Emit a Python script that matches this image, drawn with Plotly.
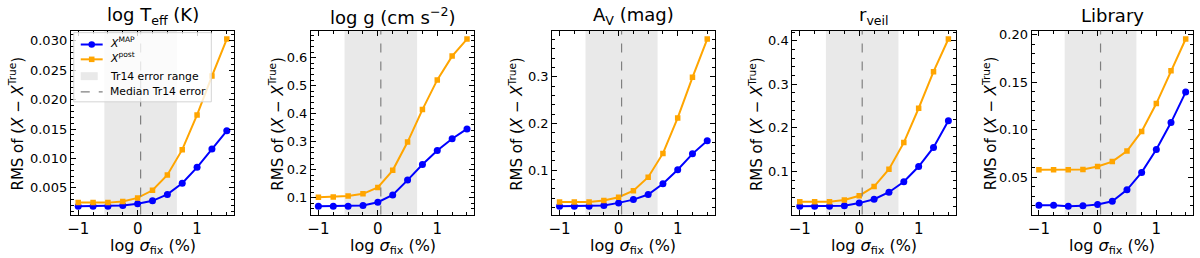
import plotly.graph_objects as go

# ---------------- data ----------------
log_sigma_fix = [-1, -0.75, -0.5, -0.25, 0, 0.25, 0.5, 0.75, 1, 1.25, 1.5]

teff_map = [0.0019, 0.0019, 0.0019, 0.0020, 0.0023, 0.0028, 0.0039, 0.0058, 0.0085, 0.0116, 0.0147]
teff_post = [0.0025, 0.0025, 0.0025, 0.0027, 0.0033, 0.0046, 0.0072, 0.0115, 0.0174, 0.0240, 0.0303]

logg_map = [0.070, 0.070, 0.070, 0.072, 0.084, 0.110, 0.163, 0.219, 0.269, 0.311, 0.346]
logg_post = [0.102, 0.103, 0.106, 0.114, 0.137, 0.198, 0.299, 0.415, 0.521, 0.606, 0.667]

av_map = [0.023, 0.023, 0.023, 0.0245, 0.030, 0.037, 0.048, 0.071, 0.101, 0.135, 0.163]
av_post = [0.032, 0.032, 0.032, 0.035, 0.042, 0.056, 0.085, 0.136, 0.212, 0.299, 0.381]

rveil_map = [0.020, 0.020, 0.020, 0.021, 0.027, 0.036, 0.052, 0.076, 0.111, 0.155, 0.216]
rveil_post = [0.030, 0.030, 0.030, 0.034, 0.044, 0.065, 0.105, 0.166, 0.245, 0.329, 0.404]

lib_map = [0.0207, 0.0207, 0.0197, 0.0200, 0.0214, 0.0248, 0.0369, 0.0552, 0.0793, 0.1076, 0.1397]
lib_post = [0.058, 0.058, 0.058, 0.0583, 0.0614, 0.0666, 0.0776, 0.0983, 0.1276, 0.1620, 0.1955]

panel_titles = ["log T<sub>eff</sub> (K)", "log g (cm s<sup>−2</sup>)", "A<sub>V</sub> (mag)",
                "r<sub>veil</sub>", "Library"]
map_series = [teff_map, logg_map, av_map, rveil_map, lib_map]
post_series = [teff_post, logg_post, av_post, rveil_post, lib_post]
y_dticks = [0.005, 0.1, 0.1, 0.1, 0.05]
y_formats = [".3f", ".1f", ".1f", ".1f", ".2f"]

tr14_range = [-0.56, 0.66]
tr14_median = 0.05

legend_labels = ["<i>X</i><sup>MAP</sup>", "<i>X</i><sup>post</sup>", "Tr14 error range",
                 "Median Tr14 error"]

# ---------------- layout ----------------
W, H = 1200, 258
panels_px = [(67, 231), (308, 472), (550, 713), (791, 955), (1031, 1193)]
ylabel_x_px = [12, 273, 513, 754, 989]
top_px, bot_px = 28, 214
FONT = "DejaVu Sans"
BLUE, ORANGE = "#0000ff", "#ffa500"
SHADE = "rgba(211,211,211,0.5)"


def px(x):
    return x / W


def py(y):
    return 1 - y / H


fig = go.Figure()
layout = dict(
    width=W, height=H,
    margin=dict(l=0, r=0, t=0, b=0),
    paper_bgcolor="white", plot_bgcolor="white",
    font=dict(family=FONT, color="black", size=12),
    showlegend=False,
)
shapes = []
annotations = []
ydom = [py(bot_px), py(top_px)]
xr = [-1.125, 1.625]

for i in range(5):
    n = "" if i == 0 else str(i + 1)
    xa, ya = "x" + n, "y" + n
    x0p, x1p = panels_px[i]
    ymap, ypost = map_series[i], post_series[i]
    lo = min(ymap + ypost)
    hi = max(ymap + ypost)
    span = hi - lo
    yr = [lo - 0.05 * span, hi + 0.05 * span]

    axis_common = dict(
        showline=True, linecolor="black", linewidth=1, mirror="allticks",
        ticks="inside", ticklen=5, tickwidth=1, tickcolor="black",
        showgrid=False, zeroline=False,
    )
    layout["xaxis" + n] = dict(
        domain=[px(x0p), px(x1p)], anchor=ya, range=xr,
        tickvals=[-1, 0, 1], ticktext=["−1", "0", "1"], tickfont=dict(size=15, family=FONT),
        minor=dict(ticks="inside", ticklen=3, tickwidth=1, tickcolor="black", dtick=0.25, tick0=0,
                   showgrid=False),
        **axis_common,
    )
    layout["yaxis" + n] = dict(
        domain=ydom, anchor=xa, range=yr, tick0=0, dtick=y_dticks[i], tickformat=y_formats[i],
        tickfont=dict(size=13, family=FONT),
        minor=dict(ticks="inside", ticklen=3, tickwidth=1, tickcolor="black",
                   dtick=y_dticks[i] / 5, tick0=0, showgrid=False),
        **axis_common,
    )

    # shaded Tr14 error range and median line
    shapes.append(dict(type="rect", xref=xa, yref=ya + " domain", x0=tr14_range[0], x1=tr14_range[1],
                       y0=0, y1=1, fillcolor=SHADE, line=dict(width=0), layer="below"))
    shapes.append(dict(type="line", xref=xa, yref=ya + " domain", x0=tr14_median, x1=tr14_median,
                       y0=0, y1=1, line=dict(color="gray", width=1.2, dash="dash"), layer="above"))

    fig.add_trace(go.Scatter(
        x=log_sigma_fix, y=ymap, xaxis=xa, yaxis=ya, mode="lines+markers",
        line=dict(color=BLUE, width=2), marker=dict(symbol="circle", size=7, color=BLUE),
        name=legend_labels[0],
    ))
    fig.add_trace(go.Scatter(
        x=log_sigma_fix, y=ypost, xaxis=xa, yaxis=ya, mode="lines+markers",
        line=dict(color=ORANGE, width=2), marker=dict(symbol="square", size=5.5, color=ORANGE),
        name=legend_labels[1],
    ))

    xc = px((x0p + x1p) / 2)
    annotations.append(dict(text=panel_titles[i], x=xc, y=py(13), xref="paper", yref="paper",
                            xanchor="center", yanchor="middle", showarrow=False,
                            font=dict(size=18, family=FONT)))
    annotations.append(dict(text="log <i>σ</i><sub>fix</sub> (%)", x=xc, y=py(246),
                            xref="paper", yref="paper", xanchor="center", yanchor="middle",
                            showarrow=False, font=dict(size=16, family=FONT)))
    annotations.append(dict(text="RMS of (<i>X</i> − <i>X</i><sup>True</sup>)", x=px(ylabel_x_px[i]),
                            y=py(122), xref="paper", yref="paper", xanchor="center",
                            yanchor="middle", textangle=-90, showarrow=False,
                            font=dict(size=15, family=FONT)))

# ---------------- legend (first panel, upper left) ----------------
lx0, lx1, ly0, ly1 = 70, 208, 30, 100
shapes.append(dict(type="rect", xref="paper", yref="paper", x0=px(lx0), x1=px(lx1),
                   y0=py(ly1), y1=py(ly0), fillcolor="rgba(255,255,255,0.8)",
                   line=dict(color="#d4d4d4", width=1), layer="above"))
row_y = [42, 57, 74, 90]
hx0, hx1, hxc = 77, 99, 88
# MAP handle
shapes.append(dict(type="line", xref="paper", yref="paper", x0=px(hx0), x1=px(hx1),
                   y0=py(row_y[0]), y1=py(row_y[0]), line=dict(color=BLUE, width=2), layer="above"))
shapes.append(dict(type="circle", xref="paper", yref="paper", x0=px(hxc - 3.3), x1=px(hxc + 3.3),
                   y0=py(row_y[0] + 3.3), y1=py(row_y[0] - 3.3), fillcolor=BLUE,
                   line=dict(width=0), layer="above"))
# post handle
shapes.append(dict(type="line", xref="paper", yref="paper", x0=px(hx0), x1=px(hx1),
                   y0=py(row_y[1]), y1=py(row_y[1]), line=dict(color=ORANGE, width=2), layer="above"))
shapes.append(dict(type="rect", xref="paper", yref="paper", x0=px(hxc - 2.8), x1=px(hxc + 2.8),
                   y0=py(row_y[1] + 2.8), y1=py(row_y[1] - 2.8), fillcolor=ORANGE,
                   line=dict(width=0), layer="above"))
# shaded range handle
shapes.append(dict(type="rect", xref="paper", yref="paper", x0=px(hx0), x1=px(hx0 + 17),
                   y0=py(row_y[2] + 4), y1=py(row_y[2] - 4), fillcolor=SHADE,
                   line=dict(width=0), layer="above"))
# median handle
shapes.append(dict(type="line", xref="paper", yref="paper", x0=px(hx0), x1=px(hx1),
                   y0=py(row_y[3]), y1=py(row_y[3]),
                   line=dict(color="gray", width=1.2, dash="dash"), layer="above"))
text_dy = [-2, -2, 0, 0]
for k, lab in enumerate(legend_labels):
    annotations.append(dict(text=lab, x=px(104), y=py(row_y[k] + text_dy[k]), xref="paper",
                            yref="paper", xanchor="left", yanchor="middle", showarrow=False,
                            font=dict(size=10.8, family=FONT)))

layout["shapes"] = shapes
layout["annotations"] = annotations
fig.update_layout(**layout)
fig.write_html("out.html", config={"displayModeBar": False},
               post_script="document.body.style.margin='0';")
